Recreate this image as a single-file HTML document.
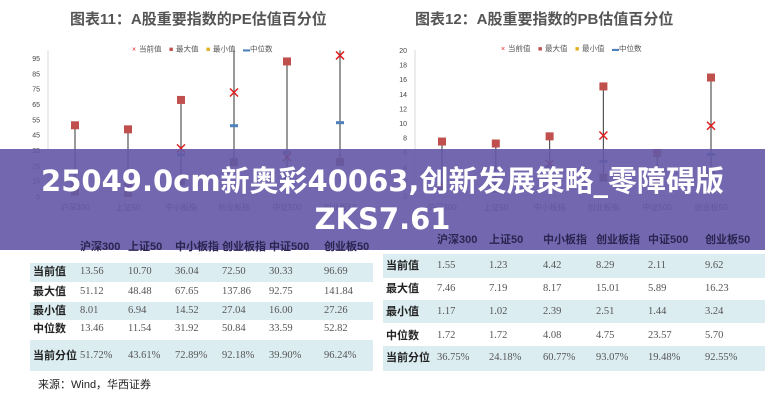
<!DOCTYPE html>
<html><head><meta charset="utf-8"><style>
body{margin:0;width:765px;height:400px;overflow:hidden;background:#fff;font-family:"Liberation Sans","Noto Sans CJK SC",sans-serif;position:relative}
.title{position:absolute;top:8px;font-size:15px;font-weight:bold;color:#555}
svg{position:absolute;left:0;top:0}
.banner{position:absolute;left:0;top:149px;width:765px;height:101px;background:rgba(100,88,166,0.9);color:#fff;font-weight:bold;font-size:29px;text-align:center;line-height:38px;padding-top:13px;box-sizing:border-box;font-family:"DejaVu Sans","Noto Sans CJK SC",sans-serif;z-index:5}
.band{position:absolute;background:#dcedf2}
.c{position:absolute;font-size:10.5px;color:#555;font-family:"Liberation Serif","Noto Serif CJK SC",serif;white-space:nowrap;line-height:12px}
.h{position:absolute;font-size:11px;font-weight:bold;color:#222;white-space:nowrap;line-height:12px}
.hd{z-index:6;color:#2a2550}
.src{position:absolute;left:38px;top:376px;font-size:11px;color:#222}
</style></head><body>
<div class="title" style="left:70px">图表11：A股重要指数的PE估值百分位</div>
<div class="title" style="left:415px">图表12：A股重要指数的PB估值百分位</div>
<svg id="chart" width="765" height="400"></svg>
<div class="banner">25049.0cm新奥彩40063,创新发展策略_零障碍版<br>ZKS7.61</div>
<div id="tables"></div>
<div class="src">来源：Wind，华西证券</div>

<script>
const categories=["沪深300","上证50","中小板指","创业板指","中证500","创业板50"];
const peCur=[13.56,10.70,36.04,72.50,30.33,96.69];
const peMax=[51.12,48.48,67.65,137.86,92.75,141.84];
const peMin=[8.01,6.94,14.52,27.04,16.00,27.26];
const peMed=[13.46,11.54,31.92,50.84,33.59,52.82];
const peTicks=[5,15,25,35,45,55,65,75,85,95];
const pbCur=[1.55,1.23,4.42,8.29,2.11,9.62];
const pbMax=[7.46,7.19,8.17,15.01,5.89,16.23];
const pbMin=[1.17,1.02,2.39,2.51,1.44,3.24];
const pbMed=[1.72,1.72,4.08,4.75,23.57,5.70];
const pbTicks=[0,2,4,6,8,10,12,14,16,18,20];
const peRows=[["当前值","13.56","10.70","36.04","72.50","30.33","96.69"],["最大值","51.12","48.48","67.65","137.86","92.75","141.84"],["最小值","8.01","6.94","14.52","27.04","16.00","27.26"],["中位数","13.46","11.54","31.92","50.84","33.59","52.82"],["当前分位","51.72%","43.61%","72.89%","92.18%","39.90%","96.24%"]];
const pbRows=[["当前值","1.55","1.23","4.42","8.29","2.11","9.62"],["最大值","7.46","7.19","8.17","15.01","5.89","16.23"],["最小值","1.17","1.02","2.39","2.51","1.44","3.24"],["中位数","1.72","1.72","4.08","4.75","23.57","5.70"],["当前分位","36.75%","24.18%","60.77%","93.07%","19.48%","92.55%"]];
const T=document.getElementById('tables');
function tbl(id,rows,cols,labX,hdrY,rowY,bands){
  bands.forEach(b=>{const d=document.createElement('div');d.className='band';
    
    
    d.style.cssText=`left:${b[0]}px;top:${b[1]}px;width:${b[2]}px;height:${b[3]}px`;T.appendChild(d);});
  categories.forEach((c,i)=>{const d=document.createElement('div');d.className='h hd';
    
    
    d.style.left=cols[i]+'px';d.style.top=(hdrY-6)+'px';d.textContent=c;T.appendChild(d);});
  rows.forEach((r,j)=>{r.forEach((v,k)=>{const d=document.createElement('div');d.className=k?'c':'h';
    
    
    d.style.left=(k?cols[k-1]:labX)+'px';d.style.top=(rowY[j]-6)+'px';d.textContent=v;T.appendChild(d);});});
}
tbl('pe',peRows,[80,128,175,222,269,324],33,247,[272,292,311,329,356],[[30,263,343,19],[30,302,343,18],[30,340,343,31]]);
tbl('pb',pbRows,[437,489,543,596,648,705],386,240,[266,289,312,336,358],[[383,254,382,24],[383,300,382,23],[383,346,382,25]]);

const NS="http://www.w3.org/2000/svg";
const svg=document.getElementById('chart');
function mk(t,a,txt){const e=document.createElementNS(NS,t);for(const k in a)e.setAttribute(k,a[k]);if(txt!=null)e.textContent=txt;svg.appendChild(e);return e;}
function draw(cfg){
  const y=v=>cfg.y0-(v-cfg.vmin)*(cfg.y0-cfg.y1)/(cfg.vmax-cfg.vmin);
  const top=y(cfg.vtop);
  const x=i=>cfg.x0+cfg.step*i;
  let e=mk('line',{x1:cfg.ax,x2:cfg.ax,y1:top,y2:cfg.y0,stroke:'#d9d9d9'});
  
  e=mk('line',{x1:cfg.ax,x2:cfg.axEnd,y1:cfg.y0,y2:cfg.y0,stroke:'#d9d9d9'});
  
  cfg.ticks.forEach(t=>{e=mk('text',{x:cfg.ax-8,y:y(t)+3,'font-size':7,fill:'#444','text-anchor':'end'},t);
    });
  categories.forEach((c,i)=>{
    e=mk('text',{x:x(i),y:cfg.y0+14,'font-size':8,fill:'#555','text-anchor':'middle'},c);
    
    const hi=Math.max(y(cfg.max[i]),top);
    e=mk('line',{x1:x(i),x2:x(i),y1:y(cfg.min[i]),y2:hi,stroke:'#555','stroke-width':1.2});
    
    if(y(cfg.max[i])>=top){e=mk('rect',{x:x(i)-4,y:y(cfg.max[i])-4,width:8,height:8,fill:'#c0504d'});
      }
    e=mk('rect',{x:x(i)-4,y:y(cfg.min[i])-4,width:8,height:8,fill:'#8a6a50'});
    
    if(y(cfg.med[i])>=top){e=mk('rect',{x:x(i)-4,y:y(cfg.med[i])-1.5,width:8,height:3,fill:'#4f81bd'});
      }
    const cy=y(cfg.cur[i]),cx=x(i);
    e=mk('path',{d:`M${cx-4} ${cy-4}L${cx+4} ${cy+4}M${cx+4} ${cy-4}L${cx-4} ${cy+4}`,stroke:'#e02020','stroke-width':1.5});
    
  });
  const lx=cfg.legendX,ly=top+1;
  const items=[['×','当前值','#e02020'],['■','最大值','#c0504d'],['■','最小值','#e0b020'],['▬','中位数','#4f81bd']];
  let off=0;
  items.forEach(it=>{e=mk('text',{x:lx+off,y:ly,'font-size':7,fill:it[2]},it[0]);
    
    e=mk('text',{x:lx+off+7,y:ly,'font-size':7.5,fill:'#555'},it[1]);
    
    off+=37;});
}
draw({id:'pe',cur:peCur,max:peMax,min:peMin,med:peMed,ticks:peTicks,vmin:5,vmax:95,vtop:100,y0:196,y1:58,ax:48,axEnd:370,x0:75,step:53,legendX:132});
draw({id:'pb',cur:pbCur,max:pbMax,min:pbMin,med:pbMed,ticks:pbTicks,vmin:0,vmax:20,vtop:20,y0:196,y1:50,ax:415,axEnd:738,x0:442,step:53.8,legendX:501});
</script>
</body></html>
